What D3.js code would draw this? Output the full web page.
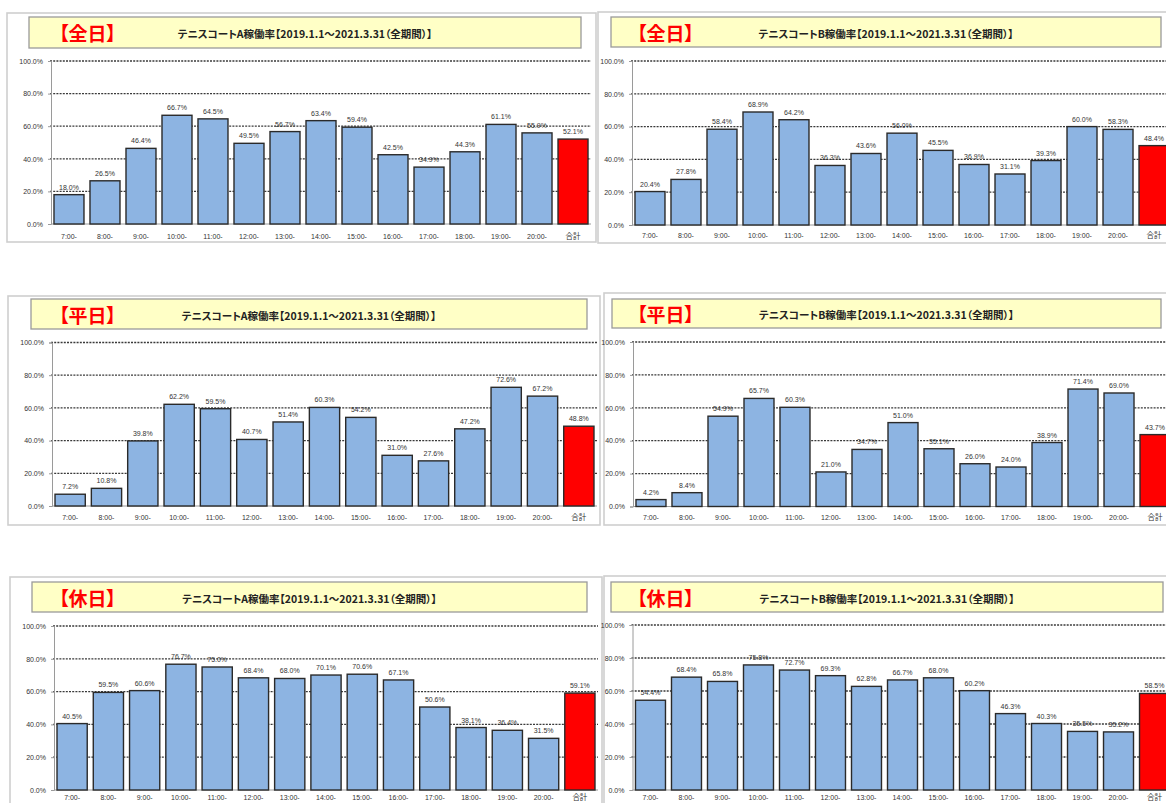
<!DOCTYPE html>
<html lang="ja">
<head>
<meta charset="utf-8">
<script src="https://cdn.jsdelivr.net/npm/d3@7"></script>
<style>
  html, body { margin: 0; padding: 0; background: #fff; overflow: hidden; }
  svg { display: block; }
  .jp { font-family: "Noto Sans CJK JP", "Noto Sans", sans-serif; font-feature-settings: "palt"; }
  .num { font-family: "Liberation Sans", Arial, "Noto Sans CJK JP", sans-serif; }
</style>
</head>
<body>
<svg id="chart" width="1166" height="803"></svg>
<script>
// Hour slots plus the overall total
const categories = ["7:00-", "8:00-", "9:00-", "10:00-", "11:00-", "12:00-", "13:00-",
  "14:00-", "15:00-", "16:00-", "17:00-", "18:00-", "19:00-", "20:00-", "合計"];
const totalCategory = "合計";

// Y axis ticks (%)
const yTicks = [0, 20, 40, 60, 80, 100];

// Day-type tags and chart titles
const dayTags = ["【全日】", "【全日】", "【平日】", "【平日】", "【休日】", "【休日】"];
const courtTitles = [
  "テニスコートA稼働率【2019.1.1～2021.3.31（全期間）】",
  "テニスコートB稼働率【2019.1.1～2021.3.31（全期間）】",
  "テニスコートA稼働率【2019.1.1～2021.3.31（全期間）】",
  "テニスコートB稼働率【2019.1.1～2021.3.31（全期間）】",
  "テニスコートA稼働率【2019.1.1～2021.3.31（全期間）】",
  "テニスコートB稼働率【2019.1.1～2021.3.31（全期間）】"
];

// Utilisation rates (%) per hour slot
const allDayA  = [18.0, 26.5, 46.4, 66.7, 64.5, 49.5, 56.7, 63.4, 59.4, 42.5, 34.9, 44.3, 61.1, 55.9, 52.1];
const allDayB  = [20.4, 27.8, 58.4, 68.9, 64.2, 36.3, 43.6, 56.0, 45.5, 36.9, 31.1, 39.3, 60.0, 58.3, 48.4];
const weekdayA = [7.2, 10.8, 39.8, 62.2, 59.5, 40.7, 51.4, 60.3, 54.2, 31.0, 27.6, 47.2, 72.6, 67.2, 48.8];
const weekdayB = [4.2, 8.4, 54.9, 65.7, 60.3, 21.0, 34.7, 51.0, 35.1, 26.0, 24.0, 38.9, 71.4, 69.0, 43.7];
const holidayA = [40.5, 59.5, 60.6, 76.7, 75.0, 68.4, 68.0, 70.1, 70.6, 67.1, 50.6, 38.1, 36.4, 31.5, 59.1];
const holidayB = [54.4, 68.4, 65.8, 75.8, 72.7, 69.3, 62.8, 66.7, 68.0, 60.2, 46.3, 40.3, 35.5, 35.2, 58.5];

const seriesList = [allDayA, allDayB, weekdayA, weekdayB, holidayA, holidayB];

// Page layout of the six chart frames
const layout = [
  { frame: [7, 13, 589, 229],   box: [29, 17, 552, 31],   tagX: 59,  plot: [51, 591, 61, 224],   catY: 236 },
  { frame: [598, 12, 610, 231], box: [611, 17, 550, 30],  tagX: 637, plot: [632, 1172, 61, 225], catY: 235 },
  { frame: [8, 296, 592, 229],  box: [31, 299, 556, 30],  tagX: 59,  plot: [52, 597, 342.5, 506], catY: 517 },
  { frame: [604, 293, 610, 232], box: [612, 299, 549, 29], tagX: 637, plot: [633, 1173, 342, 506.5], catY: 517 },
  { frame: [10, 577, 592, 260], box: [32, 582, 555, 30],  tagX: 59,  plot: [54, 598, 626, 790],  catY: 797.5 },
  { frame: [604, 576, 610, 260], box: [611, 582, 552, 30], tagX: 637, plot: [632.5, 1172.5, 625, 790], catY: 797.5 }
];

const svg = d3.select("#chart");

seriesList.forEach((values, i) => {
  const L = layout[i];
  const g = svg.append("g");
  const data = categories.map((c, k) => ({ cat: c, value: values[k] }));

  // outer frame
  g.append("rect")
    .attr("x", L.frame[0]).attr("y", L.frame[1])
    .attr("width", L.frame[2]).attr("height", L.frame[3])
    .attr("fill", "#fff").attr("stroke", "#cfcfcf").attr("stroke-width", 1.6);

  // title banner
  g.append("rect")
    .attr("x", L.box[0]).attr("y", L.box[1])
    .attr("width", L.box[2]).attr("height", L.box[3])
    .attr("fill", "#ffffc6").attr("stroke", "#9a9a9a").attr("stroke-width", 1.3);

  const midY = L.box[1] + L.box[3] / 2;
  g.append("text").attr("class", "jp")
    .attr("x", L.tagX).attr("y", midY)
    .attr("dominant-baseline", "central")
    .attr("font-size", 19).attr("font-weight", 700)
    .attr("fill", "#ff0000")
    .text(dayTags[i]);

  g.append("text").attr("class", "jp")
    .attr("x", L.box[0] + L.box[2] / 2).attr("y", midY + 1)
    .attr("text-anchor", "middle").attr("dominant-baseline", "central")
    .attr("font-size", 10.5).attr("font-weight", 700)
    .attr("fill", "#222")
    .text(courtTitles[i]);

  // scales
  const x = d3.scaleBand()
    .domain(categories)
    .range([L.plot[0], L.plot[1]])
    .paddingInner(0.167)
    .paddingOuter(0.083);
  const y = d3.scaleLinear().domain([0, 100]).range([L.plot[3], L.plot[2]]);

  // dotted gridlines
  g.append("g").selectAll("line")
    .data(yTicks.filter(t => t > 0))
    .join("line")
    .attr("x1", L.plot[0] - 1).attr("x2", L.plot[1])
    .attr("y1", d => y(d)).attr("y2", d => y(d))
    .attr("stroke", "#3a3a3a").attr("stroke-width", 1.3)
    .attr("stroke-dasharray", "2,1.2");

  // y axis
  const yAxis = d3.axisLeft(y)
    .tickValues(yTicks)
    .tickSize(3)
    .tickPadding(5)
    .tickFormat(d => d3.format(".1f")(d) + "%");
  const ya = g.append("g")
    .attr("transform", `translate(${L.plot[0]},0)`)
    .call(yAxis);
  ya.attr("font-family", null).attr("font-size", null);
  ya.select(".domain").attr("stroke", "#9a9a9a").attr("stroke-width", 1);
  ya.selectAll(".tick line").attr("stroke", "#9a9a9a");
  ya.selectAll(".tick text")
    .attr("class", "num").attr("font-size", 7).attr("fill", "#333");

  // baseline
  g.append("line")
    .attr("x1", L.plot[0]).attr("x2", L.plot[1])
    .attr("y1", y(0)).attr("y2", y(0))
    .attr("stroke", "#9a9a9a").attr("stroke-width", 1);

  // bars
  g.append("g").selectAll("rect")
    .data(data)
    .join("rect")
    .attr("x", d => x(d.cat))
    .attr("y", d => y(d.value))
    .attr("width", x.bandwidth())
    .attr("height", d => y(0) - y(d.value))
    .attr("fill", d => d.cat === totalCategory ? "#ff0000" : "#8db4e2")
    .attr("stroke", "#2a2a2a").attr("stroke-width", 1.4);

  // value labels
  g.append("g").selectAll("text")
    .data(data)
    .join("text")
    .attr("class", "num")
    .attr("x", d => x(d.cat) + x.bandwidth() / 2)
    .attr("y", d => y(d.value) - 5)
    .attr("text-anchor", "middle")
    .attr("font-size", 7).attr("fill", "#333")
    .text(d => d3.format(".1f")(d.value) + "%");

  // category labels
  g.append("g").selectAll("text")
    .data(categories)
    .join("text")
    .attr("class", "num")
    .attr("x", d => x(d) + x.bandwidth() / 2)
    .attr("y", L.catY)
    .attr("text-anchor", "middle").attr("dominant-baseline", "central")
    .attr("font-size", d => d === totalCategory ? 7.5 : 7)
    .attr("fill", "#333")
    .text(d => d);
});
</script>
</body>
</html>
